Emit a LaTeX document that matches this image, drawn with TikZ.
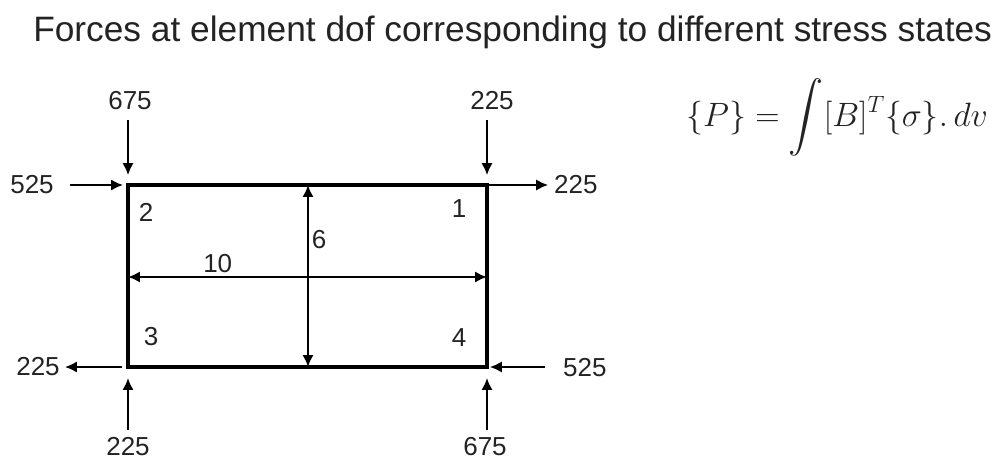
\RequirePackage{fix-cm}
\documentclass[tikz,border=0pt]{standalone}
\usepackage[no-math]{fontspec}
\usepackage{exscale}
\setmainfont{Liberation Sans}
\usetikzlibrary{arrows.meta}
\definecolor{ink}{RGB}{35,35,35}

\begin{document}
\begin{tikzpicture}[x=0.025cm, y=-0.025cm, >={Latex[length=8.5pt,width=8pt]},
    force/.style={->, line width=1.6pt},
    dim/.style={<->, line width=1.6pt},
    num/.style={font=\fontsize{18.5}{20}\selectfont, text=ink, inner sep=2pt}]
    \useasboundingbox (0,0) rectangle (992,461);

    % Title and formula
    \node[anchor=base west, inner sep=0, text=ink, font=\fontsize{25.1}{30}\selectfont] (title) at (33,41)
        {Forces at element dof corresponding to different stress states};
    \node[anchor=base west, inner sep=0, text=ink, font=\fontsize{24}{28}\selectfont] (eqn) at (686,126)
        {$\{P\} = \displaystyle\int [B]^T\{\sigma\}.\,dv$};

    % Element
    \coordinate (c1) at (487,185);
    \coordinate (c2) at (128,185);
    \coordinate (c3) at (128,367);
    \coordinate (c4) at (487,367);
    \draw[line width=2.5pt] (c1) -- (c2) -- (c3) -- (c4) -- cycle;

    % Node numbers
    \node[num] (n1) at (459,209) {1};
    \node[num] (n2) at (146,212) {2};
    \node[num] (n3) at (151,337) {3};
    \node[num] (n4) at (459,338) {4};

    % Dimensions
    \coordinate (dl) at (128,277);
    \coordinate (dr) at (487,277);
    \coordinate (dt) at (308,185);
    \coordinate (db) at (308,367);
    \draw[dim] (dl) -- (dr) node[num, pos=0.25, above] (w10) {10};
    \draw[dim] (dt) -- (db) node[num, pos=0.3, right] (h6) {6};

    % Forces at node 2 and 1
    \node[num] (f675t) at (130,101) {675};
    \node[num] (f525l) at (32,185) {525};
    \node[num] (f225t) at (492,101) {225};
    \node[num, anchor=west] (f225r) at (551,185) {225};
    \draw[force, shorten <=5pt, shorten >=7pt] (f675t.south -| c2) -- (c2);
    \draw[force, shorten <=9.5pt, shorten >=3.5pt] (f525l) -- (c2);
    \draw[force, shorten <=5pt, shorten >=7pt] (f225t.south -| c1) -- (c1);
    \draw[force, shorten >=2pt] (c1) -- (f225r);

    % Forces at node 3 and 4
    \node[num] (f225l) at (38,367) {225};
    \node[num] (f225b) at (128,447) {225};
    \node[num, anchor=west] (f525r) at (560,368) {525};
    \node[num] (f675b) at (485,447) {675};
    \draw[force, shorten <=4pt, shorten >=1.5pt] (c3) -- (f225l);
    \draw[force, shorten <=3pt, shorten >=7.8pt] (f225b.north -| c3) -- (c3);
    \draw[force, shorten <=11pt, shorten >=2pt] (f525r.west |- c4) -- (c4);
    \draw[force, shorten <=3pt, shorten >=7.8pt] (f675b.north -| c4) -- (c4);
\end{tikzpicture}
\end{document}
